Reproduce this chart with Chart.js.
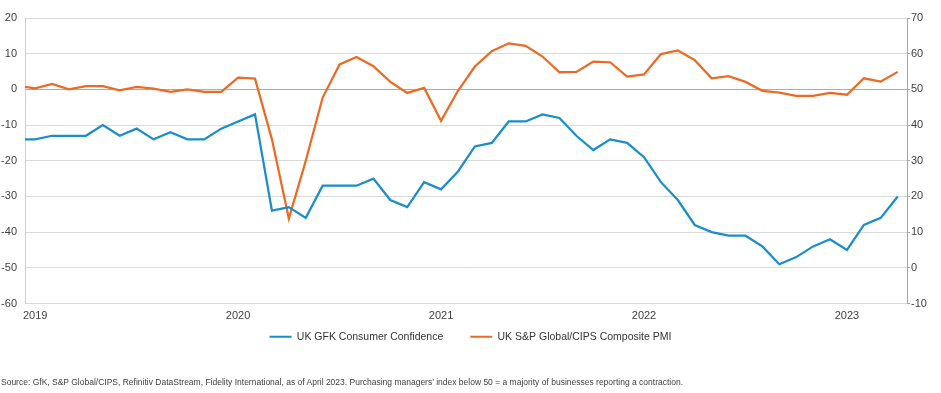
<!DOCTYPE html>
<html>
<head>
<meta charset="utf-8">
<script src="https://cdn.jsdelivr.net/npm/chart.js@4"></script>
<style>
  html, body { margin: 0; padding: 0; background: #fff; }
  #wrap { position: relative; width: 941px; height: 393px; }
  #source {
    position: absolute; left: 1px; top: 377px;
    font-family: "Liberation Sans", Arial, sans-serif;
    font-size: 8.5px; color: #404040; white-space: nowrap;
  }
</style>
</head>
<body>
<div id="wrap">
  <canvas id="chart"></canvas>
  <div id="source">Source: GfK, S&amp;P Global/CIPS, Refinitiv DataStream, Fidelity International, as of April 2023. Purchasing managers’ index below 50 = a majority of businesses reporting a contraction.</div>
</div>
<script>
// monthly data, Dec 2018 .. Apr 2023
const years = ["2019", "2020", "2021", "2022", "2023"];

const gfk = [
  -14,
  -14, -13, -13, -13, -10, -13, -11, -14, -12, -14, -14, -11,
  -9, -7, -34, -33, -36, -27, -27, -27, -25, -31, -33, -26,
  -28, -23, -16, -15, -9, -9, -7, -8, -13, -17, -14, -15,
  -19, -26, -31, -38, -40, -41, -41, -44, -49, -47, -44, -42,
  -45, -38, -36, -30
];

const pmi = [
  51.0,
  50.3, 51.5, 50.0, 50.9, 50.9, 49.7, 50.7, 50.2, 49.3, 50.0, 49.3, 49.3,
  53.3, 53.0, 36.0, 13.8, 30.0, 47.7, 57.0, 59.1, 56.5, 52.1, 49.0, 50.4,
  41.2, 49.6, 56.4, 60.7, 62.9, 62.2, 59.2, 54.8, 54.9, 57.8, 57.6, 53.6,
  54.2, 59.9, 60.9, 58.2, 53.1, 53.7, 52.1, 49.6, 49.1, 48.2, 48.2, 49.0,
  48.5, 53.1, 52.2, 54.9
];

const leftTicks = [-60, -50, -40, -30, -20, -10, 0, 10, 20];
const rightTicks = [-10, 0, 10, 20, 30, 40, 50, 60, 70];

// x = months since Jan 2019 (first value is Dec 2018)
function toPoints(arr) {
  return arr.map(function (v, i) { return { x: i - 1, y: v }; });
}

const blue = "#1a8dcb";
const orange = "#ec6b24";
const fontFam = "'Liberation Sans', Arial, sans-serif";

const ctx = document.getElementById("chart").getContext("2d");
const myChart = new Chart(ctx, {
  type: "line",
  data: {
    datasets: [
      {
        label: "UK GFK Consumer Confidence",
        data: toPoints(gfk),
        borderColor: blue,
        backgroundColor: blue,
        borderWidth: 2.25,
        pointRadius: 0,
        tension: 0,
        yAxisID: "y",
      },
      {
        label: "UK S&P Global/CIPS Composite PMI",
        data: toPoints(pmi),
        borderColor: orange,
        backgroundColor: orange,
        borderWidth: 2.25,
        pointRadius: 0,
        tension: 0,
        yAxisID: "y1",
      },
    ],
  },
  options: {
    responsive: true,
    maintainAspectRatio: false,
    animation: false,
    layout: { padding: { top: 18, left: 0, right: 0, bottom: 41 } },
    plugins: {
      tooltip: { enabled: false },
      legend: {
        position: "bottom",
        labels: {
          boxWidth: 22,
          boxHeight: 2,
          padding: 6,
          color: "#333",
          font: { family: fontFam, size: 10.5 },
          generateLabels: function (chart) {
            const items = Chart.defaults.plugins.legend.labels.generateLabels(chart);
            items.forEach(function (it, i) {
              it.lineWidth = 0;
              // extra room between the two entries
              if (i === 0) it.text = it.text + "\u2003\u2003";
            });
            return items;
          },
        },
      },
    },
    scales: {
      x: {
        type: "linear",
        min: -0.6,
        max: 51.55,
        afterBuildTicks: function (scale) {
          scale.ticks = years.map(function (y, i) { return { value: i * 12 }; });
        },
        afterFit: function (scale) { scale.height = 22; },
        grid: { display: false, drawTicks: false },
        border: { display: false },
        ticks: {
          padding: 6,
          maxRotation: 0,
          autoSkip: false,
          color: "#404040",
          font: { family: fontFam, size: 11 },
          callback: function (v) { return years[Math.round(v / 12)]; },
        },
      },
      y: {
        position: "left",
        min: -60,
        max: 20,
        afterBuildTicks: function (scale) {
          scale.ticks = leftTicks.map(function (v) { return { value: v }; });
        },
        afterFit: function (scale) { scale.width = 25; },
        grid: {
          drawTicks: false,
          color: function (c) { return c.tick && c.tick.value === 0 ? "#ababab" : "#d9d9d9"; },
          lineWidth: 1,
        },
        border: { display: true, color: "#cfcfcf" },
        ticks: {
          padding: 8,
          color: "#404040",
          font: { family: fontFam, size: 11 },
        },
      },
      y1: {
        position: "right",
        min: -10,
        max: 70,
        afterBuildTicks: function (scale) {
          scale.ticks = rightTicks.map(function (v) { return { value: v }; });
        },
        afterFit: function (scale) { scale.width = 34; },
        grid: { drawOnChartArea: false, tickLength: 3, color: "#a6a6a6" },
        border: { display: true, color: "#a6a6a6" },
        ticks: {
          padding: 1,
          color: "#404040",
          font: { family: fontFam, size: 11 },
        },
      },
    },
  },
});
</script>
</body>
</html>
